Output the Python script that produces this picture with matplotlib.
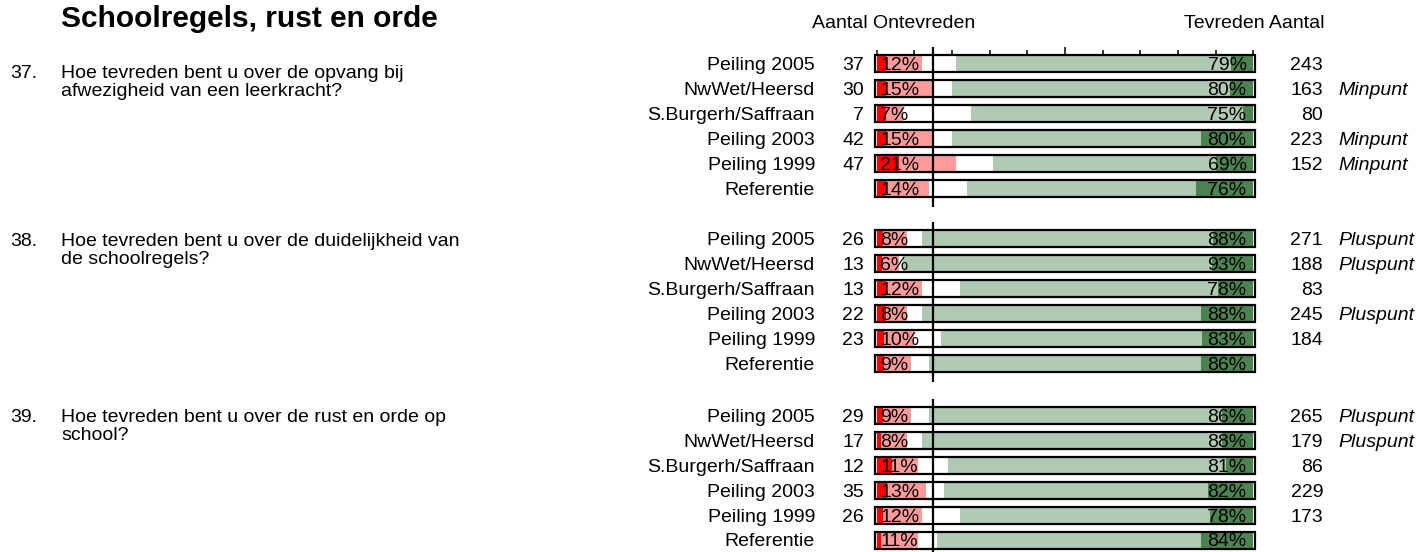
import numpy as np
import matplotlib.pyplot as plt
from matplotlib.transforms import blended_transform_factory

plt.rcParams['font.family'] = ['Liberation Sans', 'DejaVu Sans']
plt.rcParams['font.size'] = 14

W, H = 1420, 552

title = 'Schoolregels, rust en orde'
header_left = 'Aantal Ontevreden'
header_right = 'Tevreden Aantal'

rows = ['Peiling 2005', 'NwWet/Heersd', 'S.Burgerh/Saffraan',
        'Peiling 2003', 'Peiling 1999', 'Referentie']

q_numbers = ['37.', '38.', '39.']
questions = ['Hoe tevreden bent u over de opvang bij\nafwezigheid van een leerkracht?',
             'Hoe tevreden bent u over de duidelijkheid van\nde schoolregels?',
             'Hoe tevreden bent u over de rust en orde op\nschool?']

# aantallen (links: ontevreden, rechts: tevreden)
n_ontevreden = [[37, 30, 7, 42, 47, None],
                [26, 13, 13, 22, 23, None],
                [29, 17, 12, 35, 26, None]]
n_tevreden = [[243, 163, 80, 223, 152, None],
              [271, 188, 83, 245, 184, None],
              [265, 179, 86, 229, 173, None]]

# percentages
pct_ontevreden = [[12, 15, 7, 15, 21, 14],
                  [8, 6, 12, 8, 10, 9],
                  [9, 8, 11, 13, 12, 11]]
pct_zeer_ontevreden = [[2.5, 2.5, 2.5, 2.5, 5.8, 2.5],
                       [1.8, 1.3, 2.5, 2.5, 2.0, 2.0],
                       [1.8, 1.1, 4.0, 2.7, 1.8, 1.2]]
pct_tevreden = [[79, 80, 75, 80, 69, 76],
                [88, 93, 78, 88, 83, 86],
                [86, 88, 81, 82, 78, 84]]
pct_zeer_tevreden = [[5.9, 6.2, 2.7, 14, 9.9, 15.2],
                     [10.8, 11, 9.3, 14, 13.5, 14],
                     [8.4, 8.4, 7.3, 12, 11.5, 14]]

verdict = [['', 'Minpunt', '', 'Minpunt', 'Minpunt', ''],
           ['Pluspunt', 'Pluspunt', '', 'Pluspunt', '', ''],
           ['Pluspunt', 'Pluspunt', '', '', '', '']]

norm_line = 15
scale_ticks = np.arange(0, 101, 10)

RED = '#FF0000'
PINK = '#FF9B9B'
LGREEN = '#B0C9B2'
DGREEN = '#4C8350'

# layout in pixels
X0, X1 = 876.7, 1253.3
PITCH = 25
ROW0 = [63.3, 238.8, 415.0]
Q_BASE = [78, 246, 422]
Q_LINE = 18

fig = plt.figure(figsize=(W / 100, H / 100), dpi=100)

fig.text(61 / W, 1 - 27 / H, title, fontsize=21.5, fontweight='bold', va='baseline')
fig.text(812 / W, 1 - 28 / H, header_left, va='baseline')
fig.text(1325 / W, 1 - 28 / H, header_right, va='baseline', ha='right')

y = np.arange(len(rows))
for g in range(3):
    top = ROW0[g]
    ax = fig.add_axes([X0 / W, 1 - (top + 5.9 * PITCH) / H,
                       (X1 - X0) / W, 6.6 * PITCH / H])
    ax.set_xlim(0, 100)
    ax.set_ylim(5.9, -0.7)
    ax.axis('off')

    po = np.array(pct_ontevreden[g])
    pzo = np.array(pct_zeer_ontevreden[g])
    pt = np.array(pct_tevreden[g])
    pzt = np.array(pct_zeer_tevreden[g])

    # ontevreden groeit van links, tevreden van rechts
    ax.barh(y, po, height=0.6, color=PINK, zorder=2)
    ax.barh(y, pzo, height=0.6, color=RED, zorder=2)
    ax.barh(y, pt, left=100 - pt, height=0.6, color=LGREEN, zorder=2)
    ax.barh(y, pzt, left=100 - pzt, height=0.6, color=DGREEN, zorder=2)
    ax.barh(y, 101.1, left=-0.55, height=0.68, fill=False,
            edgecolor='black', linewidth=1.6, zorder=3, clip_on=False)
    ax.vlines(norm_line, -0.66, 5.74, color='black', linewidth=1.6,
              zorder=4, clip_on=False)

    if g == 0:
        lengths = np.where(scale_ticks == 50, 0.3, 0.18)
        ax.vlines(scale_ticks, -0.36 - lengths, -0.36, color='black',
                  linewidth=1.1, zorder=3, clip_on=False)

    trans = blended_transform_factory(fig.transFigure, ax.transData)
    for i in range(len(rows)):
        ax.text(1.0, i, f'{pct_ontevreden[g][i]}%', ha='left',
                va='center_baseline', zorder=5)
        ax.text(98.2, i, f'{pct_tevreden[g][i]}%', ha='right',
                va='center_baseline', zorder=5)
        ax.text(815 / W, i, rows[i], transform=trans, ha='right',
                va='center_baseline')
        if n_ontevreden[g][i] is not None:
            ax.text(864 / W, i, str(n_ontevreden[g][i]), transform=trans,
                    ha='right', va='center_baseline')
            ax.text(1323 / W, i, str(n_tevreden[g][i]), transform=trans,
                    ha='right', va='center_baseline')
        if verdict[g][i]:
            ax.text(1338 / W, i, verdict[g][i], transform=trans,
                    ha='left', va='center_baseline', style='italic')

    fig.text(10 / W, 1 - Q_BASE[g] / H, q_numbers[g], va='baseline')
    for k, line in enumerate(questions[g].split('\n')):
        fig.text(61 / W, 1 - (Q_BASE[g] + k * Q_LINE) / H, line, va='baseline')

fig.savefig('out.png', dpi=100)
